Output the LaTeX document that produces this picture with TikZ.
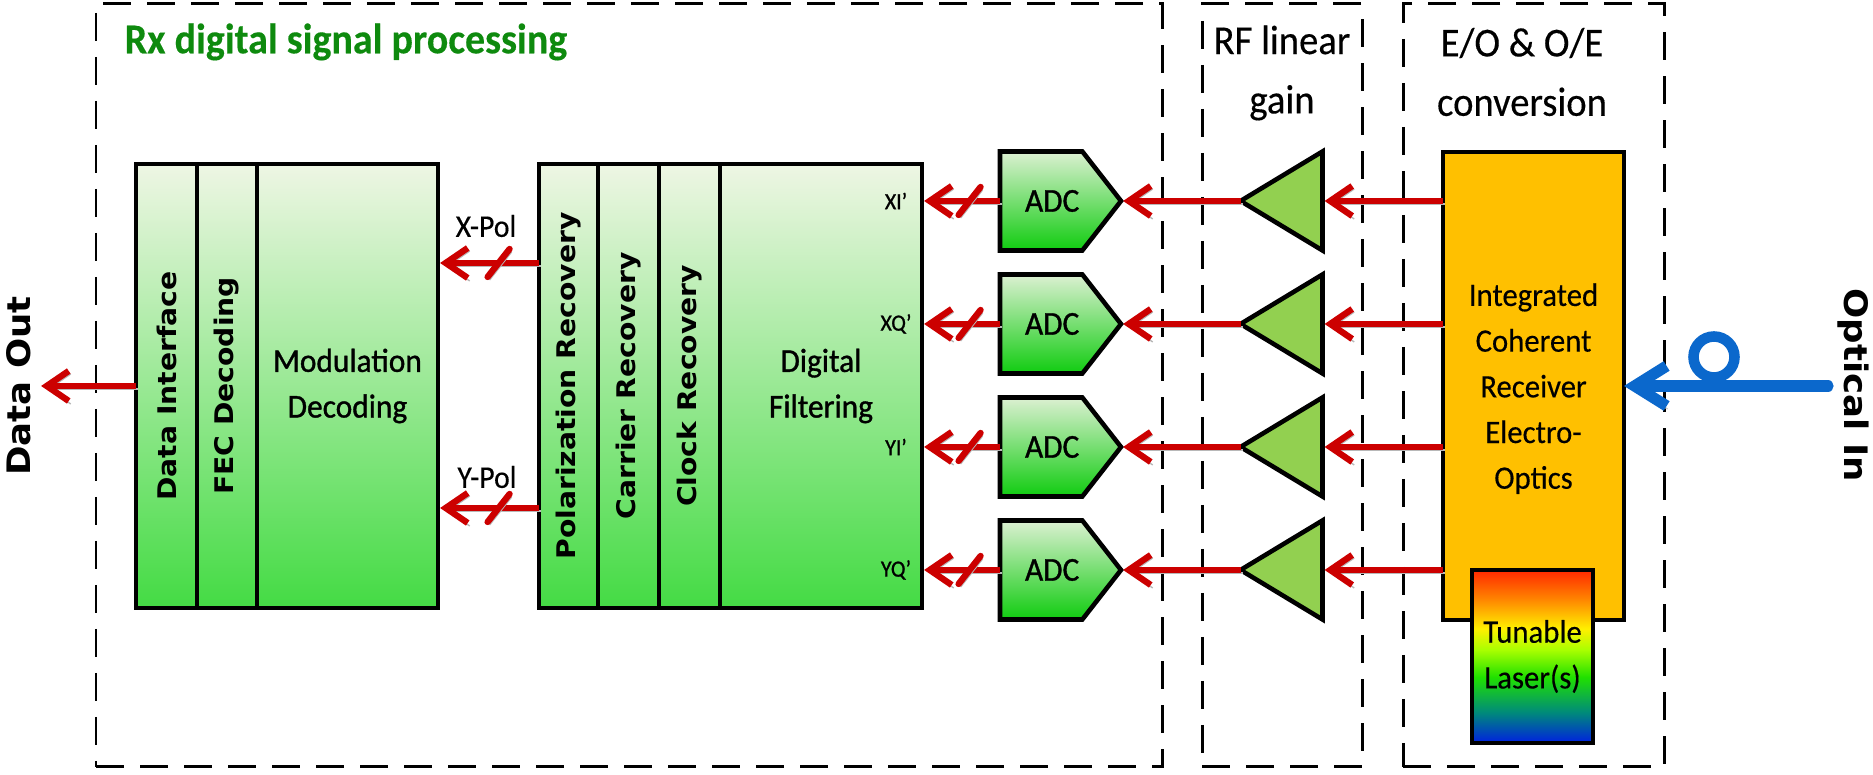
\documentclass[tikz,border=0pt]{standalone}
\usepackage{graphicx}
\usepackage{fontspec}
\setmainfont{Carlito}[FakeStretch=0.94,FakeBold=0.3]
\newfontfamily\cellfont{Carlito}[FakeStretch=0.94,FakeBold=1.0]
\newfontfamily\widebold{DejaVu Sans Bold}[FakeStretch=1.1]
\usetikzlibrary{arrows.meta,positioning,shapes.geometric,shapes.symbols}
\definecolor{dsptop}{HTML}{EEF6E4}
\definecolor{dspbot}{HTML}{44DB44}
\definecolor{adctop}{HTML}{DCF0D2}
\definecolor{adcbot}{HTML}{10CC10}
\definecolor{ampgreen}{HTML}{92D050}
\definecolor{icoorange}{HTML}{FFC000}
\definecolor{sigred}{HTML}{CC0000}
\definecolor{fiberblue}{HTML}{0B68CC}
\definecolor{titlegreen}{HTML}{0E8A0E}
\definecolor{laserblue}{HTML}{0020E0}
\definecolor{laserteal}{HTML}{008C78}
\definecolor{lasergreen}{HTML}{20E000}
\definecolor{laserlime}{HTML}{AAFF00}
\definecolor{laseryellow}{HTML}{FFF000}
\definecolor{laserorange}{HTML}{FF8000}
\definecolor{laserred}{HTML}{FF2800}
\pgfdeclareverticalshading{laserfade}{100bp}{
  color(0bp)=(laserblue);
  color(25bp)=(laserblue);
  color(34bp)=(laserteal);
  color(44bp)=(lasergreen);
  color(52bp)=(laserlime);
  color(58bp)=(laseryellow);
  color(67bp)=(laserorange);
  color(75bp)=(laserred);
  color(100bp)=(laserred)}
\tikzset{
  region-box/.style={draw=black, line width=0.85pt, dash pattern=on 0.28cm off 0.16cm, inner sep=0pt, outer sep=0pt},
  dsp-cell/.style={draw=black, line width=1.3pt, top color=dsptop, bottom color=dspbot, minimum height=4.44cm,
    inner sep=0pt, outer sep=0pt, align=center, font=\cellfont\fontsize{9.5}{13}\selectfont},
  side-cell/.style={dsp-cell, font=\widebold\fontsize{7.3}{10}\selectfont},
  adc-block/.style={draw=black, line width=1.3pt, top color=adctop, bottom color=adcbot, signal, signal to=east,
    signal pointer angle=104, minimum width=1.21cm, minimum height=0.99cm, inner sep=0pt, outer sep=0pt,
    font=\cellfont\fontsize{9.5}{11}\selectfont},
  amp-triangle/.style={draw=black, line width=1.3pt, fill=ampgreen, isosceles triangle, isosceles triangle stretches,
    shape border rotate=180, minimum width=0.99cm, minimum height=0.82cm, inner sep=0pt, outer sep=0pt},
  sig-line/.style={draw=sigred, line width=1.8pt, -{Straight Barb[length=2.2mm,width=3.0mm]}, shorten >=0.6pt,
    preaction={draw=black!28, transform canvas={shift={(0.02,-0.03)}}}},
  sig-slash/.style={draw=sigred, line width=1.8pt, line cap=round,
    preaction={draw=black!28, transform canvas={shift={(0.02,-0.03)}}}},
  head-text/.style={font=\fontsize{11.7}{16.9}\selectfont, align=center, inner sep=0pt},
  pol-text/.style={font=\fontsize{9}{10}\selectfont, inner sep=0pt},
  port-text/.style={font=\cellfont\fontsize{6.6}{8}\selectfont, inner sep=0pt},
  io-text/.style={font=\widebold\fontsize{9.2}{12}\selectfont, inner sep=0pt}
}
\begin{document}
\begin{tikzpicture}[x=1cm, y=1cm]
  \useasboundingbox (0,0) rectangle (18.73,7.75);

  % Dashed regions
  \node[region-box, minimum width=10.66cm, minimum height=7.63cm] (rxregion) at (6.29,3.895) {};
  \node[region-box, minimum width=1.60cm, minimum height=7.63cm] (rfregion) at (12.82,3.895) {};
  \node[region-box, minimum width=2.61cm, minimum height=7.63cm] (eoregion) at (15.335,3.895) {};
  \node[font=\bfseries\fontsize{12.1}{14}\selectfont, text=titlegreen, anchor=west, inner sep=0pt] (rxtitle) at (1.24,7.33) {Rx digital signal processing};
  \node[head-text] (rftitle) at (12.82,7.02) {RF linear\\gain};
  \node[head-text] (eotitle) at (15.22,7.03) {E/O \& O/E\\conversion};

  % Decoding block
  \node[side-cell, minimum width=0.61cm, anchor=west] (datacell) at (1.36,3.89) {\rotatebox{90}{Data Interface}};
  \node[side-cell, minimum width=0.60cm, right=0pt of datacell] (feccell) {\rotatebox{90}{FEC Decoding}};
  \node[dsp-cell, minimum width=1.81cm, right=0pt of feccell] (modcell) {Modulation\\Decoding};

  % Recovery block
  \node[side-cell, minimum width=0.59cm, anchor=west] (polcell) at (5.39,3.89) {\rotatebox{90}{Polarization Recovery}};
  \node[side-cell, minimum width=0.61cm, right=0pt of polcell] (carcell) {\rotatebox{90}{Carrier Recovery}};
  \node[side-cell, minimum width=0.61cm, right=0pt of carcell] (clkcell) {\rotatebox{90}{Clock Recovery}};
  \node[dsp-cell, minimum width=2.02cm, right=0pt of clkcell] (filtcell) {Digital\\Filtering};

  % Receiver and laser
  \node[draw=black, line width=1.3pt, fill=icoorange, minimum width=1.81cm, minimum height=4.68cm, inner sep=0pt, outer sep=0pt,
    align=center, font=\fontsize{9.3}{13}\selectfont, text depth=0pt] (ico) at (15.335,3.89) {Integrated\\Coherent\\Receiver\\Electro-\\Optics};
  \node[draw=black, line width=1.3pt, shading=laserfade, minimum width=1.21cm, minimum height=1.73cm, inner sep=0pt, outer sep=0pt,
    align=center, font=\fontsize{9.3}{13}\selectfont] (laser) at (15.325,1.185) {Tunable\\Laser(s)};

  % ADC rows
  \foreach \i/\y/\port in {1/5.74/XI, 2/4.51/XQ, 3/3.28/YI, 4/2.05/YQ} {
    \node[adc-block, anchor=west] (adc\i) at (10.00,\y) {\makebox[0pt]{\kern0.22cm ADC}};
    \node[amp-triangle, anchor=lower side] (amp\i) at (13.225,\y) {};
    \node[port-text] (port\i) at (8.96,\y) {\port’};
    \draw[sig-line] (ico.west |- amp\i.lower side) -- (amp\i.lower side);
    \draw[sig-line] (amp\i.apex) -- (adc\i.east);
    \draw[sig-line] (adc\i.west) -- coordinate[pos=0.39] (tick\i) (filtcell.east |- adc\i.west);
    \draw[sig-slash] (tick\i) ++(-0.11,-0.14) -- ++(0.22,0.28);
  }

  % Polarization outputs
  \coordinate (xpolout) at (5.39,5.12);
  \coordinate (ypolout) at (5.39,2.67);
  \draw[sig-line] (xpolout) -- coordinate[pos=0.4] (xtick) (modcell.east |- xpolout);
  \draw[sig-line] (ypolout) -- coordinate[pos=0.4] (ytick) (modcell.east |- ypolout);
  \draw[sig-slash] (xtick) ++(-0.11,-0.14) -- ++(0.22,0.28);
  \draw[sig-slash] (ytick) ++(-0.11,-0.14) -- ++(0.22,0.28);
  \node[pol-text] (xpollabel) at (4.86,5.49) {X-Pol};
  \node[pol-text] (ypollabel) at (4.87,2.98) {Y-Pol};

  % Data out
  \coordinate (dataend) at (0.39,3.89);
  \draw[sig-line] (datacell.west) -- (dataend);
  \node[io-text, rotate=90] (dataout) at (0.19,3.89) {Data Out};

  % Optical in
  \coordinate (fiberend) at (18.28,3.89);
  \node[draw=fiberblue, line width=3pt, circle, minimum size=0.41cm, inner sep=0pt, outer sep=0pt] (fiberloop) at (17.14,4.18) {};
  \draw[draw=fiberblue, line width=3.2pt, line cap=round, -{Straight Barb[length=3.2mm,width=4.0mm]},
    preaction={draw=black!20, transform canvas={shift={(0.01,-0.03)}}}] (fiberend) -- (ico.east |- fiberend);
  \node[io-text, rotate=-90] (opticalin) at (18.53,3.90) {Optical In};
\end{tikzpicture}
\end{document}
